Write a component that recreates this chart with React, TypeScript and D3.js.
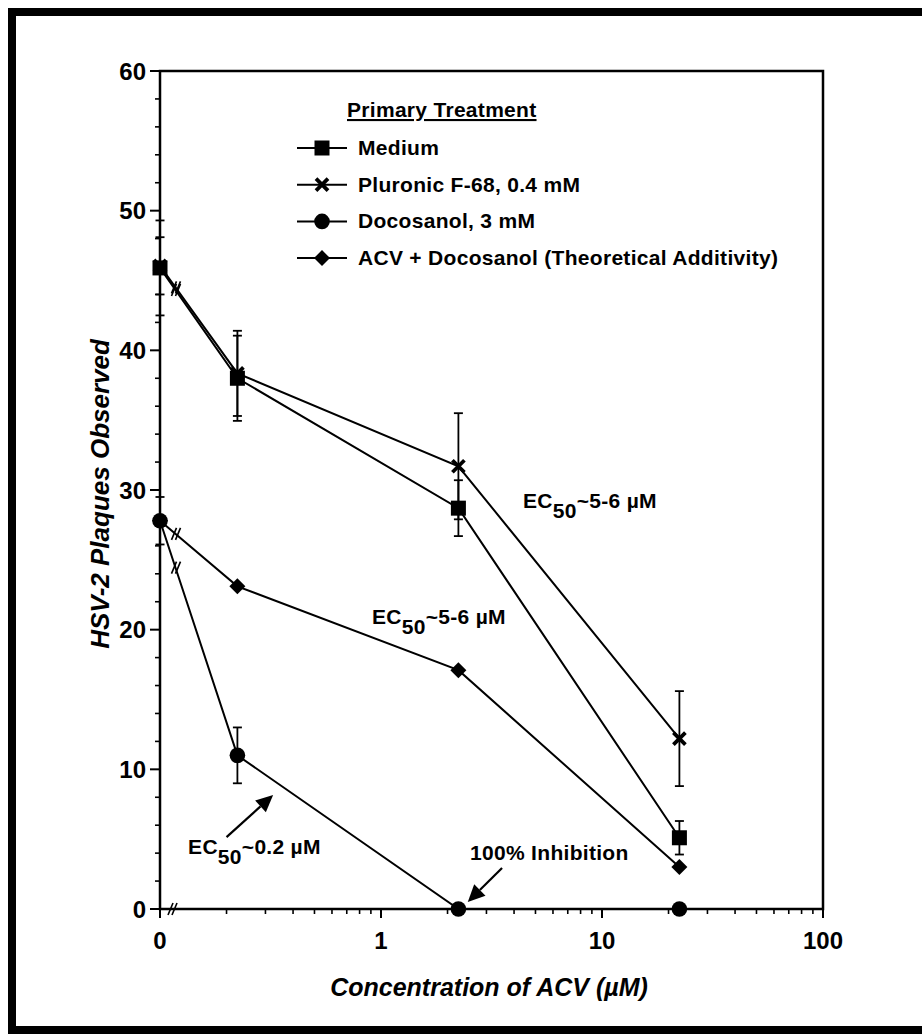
import React from 'react';
import * as d3 from 'd3';

// values (x = ACV concentration in uM, 0 drawn at the axis break)
const concentrations = [0, 0.224, 2.24, 22.4];
const mediumMean = [45.9, 38.0, 28.7, 5.1];
const mediumErr = [3.4, 3.05, 2.0, 1.2];
const pluronicMean = [46.05, 38.35, 31.7, 12.2];
const pluronicErr = [2.05, 3.05, 3.8, 3.4];
const docosanolMean = [27.8, 11.0, 0, 0];
const docosanolErr = [1.7, 2.0, 0, 0];
const additivityMean = [27.8, 23.1, 17.1, 3.0];

const legendTitle = 'Primary Treatment';
const legendLabels = [
  'Medium',
  'Pluronic F-68, 0.4 mM',
  'Docosanol, 3 mM',
  'ACV + Docosanol (Theoretical Additivity)',
];
const xTickValues = [0.1, 1, 10, 100];
const xTickLabels = ['0', '1', '10', '100'];
const yTickValues = [0, 10, 20, 30, 40, 50, 60];

// annotations in data units
const ecLabels = [
  { x: 4.39, y: 28.7, value: '~5-6 \u00b5M' },
  { x: 0.91, y: 20.4, value: '~5-6 \u00b5M' },
  { x: 0.134, y: 3.94, value: '~0.2 \u00b5M' },
];
const inhibitionLabel = { x: 2.53, y: 3.5, text: '100% Inhibition' };
const arrows = [
  { x0: 0.2, y0: 5.15, x1: 0.325, y1: 8.16 },
  { x0: 3.53, y0: 2.94, x1: 2.47, y1: 0.5 },
];

const W = 922;
const H = 1034;
const font = '"Liberation Sans", Arial, Helvetica, sans-serif';

const x = d3.scaleLog().domain([0.1, 100]).range([160, 823]);
const y = d3.scaleLinear().domain([0, 60]).range([909, 71]);
const px = (c: number) => x(c === 0 ? 0.1 : c);

type Sym = 'square' | 'cross' | 'circle' | 'diamond';

const series: { sym: Sym; mean: number[]; err?: number[] }[] = [
  { sym: 'square', mean: mediumMean, err: mediumErr },
  { sym: 'cross', mean: pluronicMean, err: pluronicErr },
  { sym: 'circle', mean: docosanolMean, err: docosanolErr },
  { sym: 'diamond', mean: additivityMean },
];

function Marker({ sym, cx, cy }: { sym: Sym; cx: number; cy: number }) {
  if (sym === 'square') return <rect x={cx - 7.5} y={cy - 7.5} width={15} height={15} fill="#000" />;
  if (sym === 'circle') return <circle cx={cx} cy={cy} r={7.8} fill="#000" />;
  if (sym === 'diamond')
    return <path d={`M${cx},${cy - 8}L${cx + 8},${cy}L${cx},${cy + 8}L${cx - 8},${cy}Z`} fill="#000" />;
  const s = 6;
  return (
    <path
      d={`M${cx - s},${cy - s}L${cx + s},${cy + s}M${cx - s},${cy + s}L${cx + s},${cy - s}`}
      stroke="#000"
      strokeWidth={3.8}
    />
  );
}

function BreakMark({ cx, cy }: { cx: number; cy: number }) {
  return (
    <g stroke="#000" strokeWidth={1.6}>
      <line x1={cx - 5} y1={cy + 6} x2={cx + 0} y2={cy - 6} />
      <line x1={cx - 1} y1={cy + 6} x2={cx + 4} y2={cy - 6} />
    </g>
  );
}

function Arrow({ x0, y0, x1, y1 }: { x0: number; y0: number; x1: number; y1: number }) {
  const ax = px(x0), ay = y(y0), bx = px(x1), by = y(y1);
  const ang = Math.atan2(by - ay, bx - ax);
  const len = 17, half = 8;
  const baseX = bx - len * Math.cos(ang), baseY = by - len * Math.sin(ang);
  const nx = -Math.sin(ang) * half, ny = Math.cos(ang) * half;
  return (
    <g>
      <line x1={ax} y1={ay} x2={baseX} y2={baseY} stroke="#000" strokeWidth={2.2} />
      <path d={`M${bx},${by}L${baseX + nx},${baseY + ny}L${baseX - nx},${baseY - ny}Z`} fill="#000" />
    </g>
  );
}

export default function App() {
  const line = d3
    .line<number>()
    .x((_, i) => px(concentrations[i]))
    .y((d) => y(d));

  const minorX = x.ticks().filter((t) => !xTickValues.some((m) => Math.abs(m - t) < 1e-9));
  const minorY = d3.range(0, 61, 2).filter((t) => t % 10 !== 0);

  const [x0, x1] = x.range();
  const [y0, y1] = y.range();

  return (
    <svg
      width={W}
      height={H}
      style={{ position: 'absolute', left: 0, top: 0, background: '#fff' }}
      fontFamily={font}
    >
      <rect x={12} y={12} width={1000} height={1018} fill="none" stroke="#000" strokeWidth={8} />

      {/* plot box */}
      <path d={`M${x0},${y0}V${y1}H${x1}V${y0}Z`} fill="none" stroke="#000" strokeWidth={2.5} />

      {/* y ticks */}
      {yTickValues.map((t) => (
        <g key={'y' + t}>
          <line x1={x0 - 10} x2={x0} y1={y(t)} y2={y(t)} stroke="#000" strokeWidth={2} />
          <text x={x0 - 14} y={y(t) + 8.5} textAnchor="end" fontSize={24} fontWeight="bold">
            {t}
          </text>
        </g>
      ))}
      {minorY.map((t) => (
        <line key={'my' + t} x1={x0 - 5} x2={x0} y1={y(t)} y2={y(t)} stroke="#000" strokeWidth={1.6} />
      ))}

      {/* x ticks */}
      {xTickValues.map((t, i) => (
        <g key={'x' + t}>
          <line x1={x(t)} x2={x(t)} y1={y0} y2={y0 + 9} stroke="#000" strokeWidth={2} />
          <text x={x(t)} y={y0 + 40} textAnchor="middle" fontSize={24} fontWeight="bold">
            {xTickLabels[i]}
          </text>
        </g>
      ))}
      {minorX.map((t) => (
        <line key={'mx' + t} x1={x(t)} x2={x(t)} y1={y0} y2={y0 + 5} stroke="#000" strokeWidth={1.6} />
      ))}
      <BreakMark cx={x0 + 13} cy={y0} />

      {/* axis titles */}
      <text
        transform={`translate(109,${(y0 + y1) / 2 + 4}) rotate(-90)`}
        textAnchor="middle"
        fontSize={26}
        fontWeight="bold"
        fontStyle="italic"
      >
        HSV-2 Plaques Observed
      </text>
      <text x={489} y={996} textAnchor="middle" fontSize={25} fontWeight="bold" fontStyle="italic">
        Concentration of ACV (µM)
      </text>

      {/* series lines */}
      {series.map((s, i) => (
        <path key={'l' + i} d={line(s.mean) || ''} fill="none" stroke="#000" strokeWidth={2} />
      ))}
      {/* break marks on first segment */}
      {series.map((s, i) => {
        const t = 0.2;
        const cx = px(concentrations[0]) + t * (px(concentrations[1]) - px(concentrations[0]));
        const cy = y(s.mean[0]) + t * (y(s.mean[1]) - y(s.mean[0]));
        return <BreakMark key={'b' + i} cx={cx + 1} cy={cy} />;
      })}

      {/* error bars */}
      {series.map((s, i) =>
        s.err
          ? s.mean.map((m, j) => {
              const e = s.err![j];
              if (!e) return null;
              const cx = px(concentrations[j]);
              return (
                <g key={`e${i}-${j}`} stroke="#000" strokeWidth={1.8}>
                  <line x1={cx} x2={cx} y1={y(m + e)} y2={y(m - e)} />
                  <line x1={cx - 4.5} x2={cx + 4.5} y1={y(m + e)} y2={y(m + e)} />
                  <line x1={cx - 4.5} x2={cx + 4.5} y1={y(m - e)} y2={y(m - e)} />
                </g>
              );
            })
          : null
      )}

      {/* markers */}
      {series.map((s, i) =>
        s.mean.map((m, j) => <Marker key={`m${i}-${j}`} sym={s.sym} cx={px(concentrations[j])} cy={y(m)} />)
      )}

      {/* legend */}
      <text x={347} y={117} fontSize={21} fontWeight="bold" letterSpacing={0.3} textDecoration="underline">
        {legendTitle}
      </text>
      {legendLabels.map((lab, i) => {
        const by = 155 + i * 36.7;
        return (
          <g key={'lg' + i}>
            <line x1={297} x2={347} y1={by - 7} y2={by - 7} stroke="#000" strokeWidth={2} />
            <Marker sym={series[i].sym} cx={322} cy={by - 7} />
            <text x={358} y={by} fontSize={21} fontWeight="bold" letterSpacing={0.3}>
              {lab}
            </text>
          </g>
        );
      })}

      {/* annotations */}
      {ecLabels.map((a, i) => (
        <text key={'ec' + i} x={px(a.x)} y={y(a.y)} fontSize={21} fontWeight="bold" letterSpacing={0.3}>
          EC
          <tspan dy={10}>50</tspan>
          <tspan dy={-10}>{a.value}</tspan>
        </text>
      ))}
      <text
        x={px(inhibitionLabel.x)}
        y={y(inhibitionLabel.y)}
        fontSize={21}
        fontWeight="bold"
        letterSpacing={0.3}
      >
        {inhibitionLabel.text}
      </text>
      {arrows.map((a, i) => (
        <Arrow key={'a' + i} {...a} />
      ))}
    </svg>
  );
}
